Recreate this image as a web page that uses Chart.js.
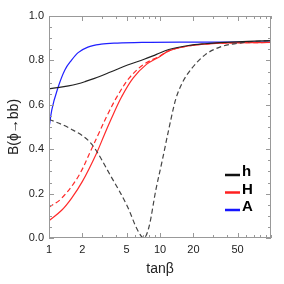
<!DOCTYPE html>
<html>
<head>
<meta charset="utf-8">
<script src="https://cdn.jsdelivr.net/npm/chart.js@4"></script>
<style>
  body { margin: 0; background: #fff; }
  #wrap { width: 284px; height: 284px; }
</style>
</head>
<body>
<div id="wrap"><canvas id="c"></canvas></div>
<script>
// tan(beta) values and branching ratios
const hTan = [1, 1.2, 1.5, 1.83, 2.1, 2.57, 3.63, 5.1, 7.2, 9.2, 12, 18, 25.6, 38.6, 62, 100];
const hVal = [0.672, 0.677, 0.685, 0.695, 0.704, 0.719, 0.749, 0.779, 0.805, 0.826, 0.849, 0.867, 0.875, 0.881, 0.886, 0.889];

const hDashTan = [1, 1.54, 2.4, 3.63, 5.1, 6.27, 7.15, 7.97, 9.17, 10.5, 12, 13.8, 15.8, 19.4, 25.6, 36, 50.6, 71.5, 100];
const hDashVal = [0.535, 0.494, 0.425, 0.276, 0.141, 0.036, 0.0, 0.051, 0.216, 0.351, 0.49, 0.622, 0.697, 0.765, 0.826, 0.863, 0.877, 0.886, 0.889];

const HTan = [1, 1.3, 1.6, 2.0, 2.67, 3.18, 3.78, 4.5, 5.72, 7.55, 10, 12, 18, 32, 100];
const HVal = [0.078, 0.125, 0.18, 0.255, 0.38, 0.47, 0.555, 0.635, 0.72, 0.782, 0.818, 0.843, 0.865, 0.877, 0.881];

const HDashTan = [1, 1.3, 1.83, 2.44, 2.86, 3.4, 4.14, 5.27, 7.04, 10, 12, 18, 32, 100];
const HDashVal = [0.138, 0.179, 0.276, 0.405, 0.48, 0.56, 0.64, 0.72, 0.78, 0.82, 0.843, 0.865, 0.877, 0.881];

const ATan = [1, 1.06, 1.21, 1.39, 1.59, 1.83, 2.24, 2.95, 4.13, 7, 15, 100];
const AVal = [0.495, 0.577, 0.68, 0.757, 0.80, 0.835, 0.86, 0.873, 0.878, 0.881, 0.882, 0.882];

const xLabels = [1, 2, 5, 10, 20, 50];
const xMinor = [3, 4, 6, 7, 8, 9, 30, 40, 60, 70, 80, 90, 100];
const yLabels = [0, 0.2, 0.4, 0.6, 0.8, 1.0];
const yMinor = [0.05, 0.1, 0.15, 0.25, 0.3, 0.35, 0.45, 0.5, 0.55, 0.65, 0.7, 0.75, 0.85, 0.9, 0.95];

const legendItems = [
  { label: 'h', color: '#111' },
  { label: 'H', color: '#ff2020' },
  { label: 'A', color: '#1515ff' }
];

const pts = (xs, ys) => xs.map((x, i) => ({ x: x, y: ys[i] }));

const line = (data, color, dash, mono) => ({
  data: data,
  borderColor: color,
  borderWidth: 1.2,
  borderDash: dash || [],
  pointRadius: 0,
  fill: false,
  tension: 0.35,
  cubicInterpolationMode: mono ? 'monotone' : 'default'
});

const framePlugin = {
  id: 'frame',
  afterDraw(chart) {
    const ctx = chart.ctx;
    const a = chart.chartArea;
    const xs = chart.scales.x;
    const ys = chart.scales.y;
    ctx.save();
    ctx.strokeStyle = '#999';
    ctx.lineWidth = 1;
    ctx.strokeRect(a.left + 0.5, a.top + 0.5, a.right - a.left - 1, a.bottom - a.top - 1);
    ctx.beginPath();
    const tickX = (v, len) => {
      const p = Math.round(xs.getPixelForValue(v)) + 0.5;
      ctx.moveTo(p, a.bottom); ctx.lineTo(p, a.bottom - len);
      ctx.moveTo(p, a.top); ctx.lineTo(p, a.top + len);
    };
    const tickY = (v, len) => {
      const p = Math.round(ys.getPixelForValue(v)) + 0.5;
      ctx.moveTo(a.left, p); ctx.lineTo(a.left + len, p);
      ctx.moveTo(a.right, p); ctx.lineTo(a.right - len, p);
    };
    xLabels.forEach(v => tickX(v, 5));
    xMinor.forEach(v => tickX(v, 3));
    yLabels.forEach(v => tickY(v, 5));
    yMinor.forEach(v => tickY(v, 3));
    ctx.stroke();

    // legend, bottom right inside the plot
    ctx.font = 'bold 15px "Liberation Sans", Arial, sans-serif';
    ctx.textBaseline = 'middle';
    legendItems.forEach((it, i) => {
      const y = a.bottom - 65 + i * 17.5;
      ctx.strokeStyle = it.color;
      ctx.lineWidth = 2.5;
      ctx.beginPath();
      ctx.moveTo(a.right - 46, y + 2);
      ctx.lineTo(a.right - 31, y + 2);
      ctx.stroke();
      ctx.fillStyle = '#000';
      ctx.fillText(it.label, a.right - 29, y - 1);
    });
    ctx.restore();
  }
};

new Chart(document.getElementById('c'), {
  type: 'line',
  data: {
    datasets: [
      line(pts(hTan, hVal), '#222'),
      line(pts(hDashTan, hDashVal), '#444', [5, 3], true),
      line(pts(HTan, HVal), '#ff2a2a'),
      line(pts(HDashTan, HDashVal), '#ff2a2a', [5, 3]),
      line(pts(ATan, AVal), '#2020ff', null, true)
    ]
  },
  options: {
    responsive: true,
    maintainAspectRatio: false,
    animation: false,
    layout: { padding: { top: 16, right: 13, left: 0, bottom: 0 } },
    plugins: { legend: { display: false }, tooltip: { enabled: false } },
    scales: {
      x: {
        type: 'logarithmic',
        min: 1,
        max: 100,
        afterBuildTicks: (scale) => { scale.ticks = xLabels.map(v => ({ value: v })); },
        afterFit: (scale) => { scale.height = 46; },
        grid: { display: false, drawTicks: false },
        border: { display: false },
        ticks: {
          autoSkip: false,
          maxRotation: 0,
          padding: 5,
          color: '#222',
          font: { family: '"Liberation Sans", Arial, sans-serif', size: 11 },
          callback: (v) => String(v)
        },
        title: {
          display: true,
          text: 'tanβ',
          color: '#222',
          padding: { top: 4, bottom: 6 },
          font: { family: '"Liberation Sans", Arial, sans-serif', size: 14 }
        }
      },
      y: {
        min: 0,
        max: 1,
        afterBuildTicks: (scale) => { scale.ticks = yLabels.map(v => ({ value: v })); },
        afterFit: (scale) => { scale.width = 49; },
        grid: { display: false, drawTicks: false },
        border: { display: false },
        ticks: {
          padding: 5,
          color: '#222',
          font: { family: '"Liberation Sans", Arial, sans-serif', size: 11 },
          callback: (v) => v.toFixed(1)
        },
        title: {
          display: true,
          text: 'B(ϕ→bb)',
          color: '#222',
          padding: { top: 6, bottom: 0 },
          font: { family: '"Liberation Sans", Arial, sans-serif', size: 14 }
        }
      }
    }
  },
  plugins: [framePlugin]
});
</script>
</body>
</html>
